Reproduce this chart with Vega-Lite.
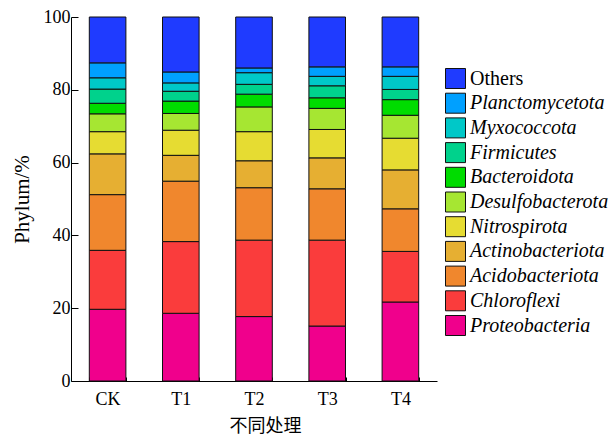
{
  "$schema": "https://vega.github.io/schema/vega-lite/v6.json",
  "autosize": {"type": "none"},
  "padding": {"left": 71, "top": 17, "right": 172, "bottom": 60},
  "width": 366,
  "height": 364,
  "background": "white",
  "config": {
    "view": {"stroke": null},
    "font": "Liberation Serif",
    "axis": {"grid": false, "domainColor": "#000", "tickColor": "#000", "labelColor": "#000", "titleColor": "#000", "labelFont": "Liberation Serif", "titleFont": "Liberation Serif", "titleFontWeight": "normal"},
    "legend": {"labelFont": "Liberation Serif"}
  },
  "data": {"values": [
    {"t": "CK", "p": "Proteobacteria", "k": 1, "v": 19.7},
    {"t": "CK", "p": "Chloroflexi", "k": 2, "v": 16.2},
    {"t": "CK", "p": "Acidobacteriota", "k": 3, "v": 15.3},
    {"t": "CK", "p": "Actinobacteriota", "k": 4, "v": 11.2},
    {"t": "CK", "p": "Nitrospirota", "k": 5, "v": 6.1},
    {"t": "CK", "p": "Desulfobacterota", "k": 6, "v": 4.9},
    {"t": "CK", "p": "Bacteroidota", "k": 7, "v": 2.9},
    {"t": "CK", "p": "Firmicutes", "k": 8, "v": 3.9},
    {"t": "CK", "p": "Myxococcota", "k": 9, "v": 3.1},
    {"t": "CK", "p": "Planctomycetota", "k": 10, "v": 4.1},
    {"t": "CK", "p": "Others", "k": 11, "v": 12.6},
    {"t": "T1", "p": "Proteobacteria", "k": 1, "v": 18.6},
    {"t": "T1", "p": "Chloroflexi", "k": 2, "v": 19.7},
    {"t": "T1", "p": "Acidobacteriota", "k": 3, "v": 16.6},
    {"t": "T1", "p": "Actinobacteriota", "k": 4, "v": 7.1},
    {"t": "T1", "p": "Nitrospirota", "k": 5, "v": 6.9},
    {"t": "T1", "p": "Desulfobacterota", "k": 6, "v": 4.6},
    {"t": "T1", "p": "Bacteroidota", "k": 7, "v": 3.4},
    {"t": "T1", "p": "Firmicutes", "k": 8, "v": 2.7},
    {"t": "T1", "p": "Myxococcota", "k": 9, "v": 2.3},
    {"t": "T1", "p": "Planctomycetota", "k": 10, "v": 3.0},
    {"t": "T1", "p": "Others", "k": 11, "v": 15.1},
    {"t": "T2", "p": "Proteobacteria", "k": 1, "v": 17.7},
    {"t": "T2", "p": "Chloroflexi", "k": 2, "v": 21.0},
    {"t": "T2", "p": "Acidobacteriota", "k": 3, "v": 14.4},
    {"t": "T2", "p": "Actinobacteriota", "k": 4, "v": 7.4},
    {"t": "T2", "p": "Nitrospirota", "k": 5, "v": 8.0},
    {"t": "T2", "p": "Desulfobacterota", "k": 6, "v": 6.8},
    {"t": "T2", "p": "Bacteroidota", "k": 7, "v": 3.5},
    {"t": "T2", "p": "Firmicutes", "k": 8, "v": 2.7},
    {"t": "T2", "p": "Myxococcota", "k": 9, "v": 3.2},
    {"t": "T2", "p": "Planctomycetota", "k": 10, "v": 1.3},
    {"t": "T2", "p": "Others", "k": 11, "v": 14.0},
    {"t": "T3", "p": "Proteobacteria", "k": 1, "v": 15.1},
    {"t": "T3", "p": "Chloroflexi", "k": 2, "v": 23.6},
    {"t": "T3", "p": "Acidobacteriota", "k": 3, "v": 14.1},
    {"t": "T3", "p": "Actinobacteriota", "k": 4, "v": 8.5},
    {"t": "T3", "p": "Nitrospirota", "k": 5, "v": 7.8},
    {"t": "T3", "p": "Desulfobacterota", "k": 6, "v": 5.8},
    {"t": "T3", "p": "Bacteroidota", "k": 7, "v": 2.9},
    {"t": "T3", "p": "Firmicutes", "k": 8, "v": 3.3},
    {"t": "T3", "p": "Myxococcota", "k": 9, "v": 2.6},
    {"t": "T3", "p": "Planctomycetota", "k": 10, "v": 2.6},
    {"t": "T3", "p": "Others", "k": 11, "v": 13.7},
    {"t": "T4", "p": "Proteobacteria", "k": 1, "v": 21.7},
    {"t": "T4", "p": "Chloroflexi", "k": 2, "v": 13.9},
    {"t": "T4", "p": "Acidobacteriota", "k": 3, "v": 11.7},
    {"t": "T4", "p": "Actinobacteriota", "k": 4, "v": 10.7},
    {"t": "T4", "p": "Nitrospirota", "k": 5, "v": 8.7},
    {"t": "T4", "p": "Desulfobacterota", "k": 6, "v": 6.3},
    {"t": "T4", "p": "Bacteroidota", "k": 7, "v": 4.3},
    {"t": "T4", "p": "Firmicutes", "k": 8, "v": 2.8},
    {"t": "T4", "p": "Myxococcota", "k": 9, "v": 3.6},
    {"t": "T4", "p": "Planctomycetota", "k": 10, "v": 2.6},
    {"t": "T4", "p": "Others", "k": 11, "v": 13.7}
  ]},
  "mark": {"type": "bar", "stroke": "#111", "strokeWidth": 1},
  "encoding": {
    "x": {
      "field": "t", "type": "nominal", "sort": ["CK", "T1", "T2", "T3", "T4"],
      "scale": {"paddingInner": 0.5, "paddingOuter": 0.25},
      "axis": {
        "title": "不同处理", "titleFont": "Liberation Serif, Noto Sans CJK SC", "titleFontSize": 18, "titleX": 194, "titlePadding": 9,
        "labelAngle": 0, "labelFontSize": 18, "labelDx": 8, "labelPadding": 13,
        "tickBand": "extent", "tickSize": -4, "domainWidth": 1, "tickWidth": 1
      }
    },
    "y": {
      "field": "v", "type": "quantitative", "stack": "zero",
      "scale": {"domain": [0, 100], "nice": false},
      "axis": {
        "title": "Phylum/%", "titleFontSize": 21, "titlePadding": 11,
        "values": [0, 20, 40, 60, 80, 100], "labelFontSize": 18, "labelPadding": 8,
        "tickSize": -7, "domainWidth": 1, "tickWidth": 1
      }
    },
    "order": {"field": "k", "type": "quantitative", "sort": "ascending"},
    "color": {
      "field": "p", "type": "nominal",
      "scale": {
        "domain": ["Others", "Planctomycetota", "Myxococcota", "Firmicutes", "Bacteroidota", "Desulfobacterota", "Nitrospirota", "Actinobacteriota", "Acidobacteriota", "Chloroflexi", "Proteobacteria"],
        "range": ["#1F3BFF", "#00A0FF", "#00C8C8", "#00D28C", "#00DC00", "#A6E632", "#E6DC32", "#E6AF32", "#F0872D", "#FA3C3C", "#F0008C"]
      },
      "legend": {
        "title": null, "orient": "none", "legendX": 374, "legendY": 51, "padding": 0,
        "symbolType": "square", "symbolSize": 400, "symbolStrokeColor": "#111", "symbolStrokeWidth": 1, "symbolOpacity": 1,
        "labelFont": "Liberation Serif", "labelFontSize": 20, "labelColor": "#000", "labelOffset": 4, "rowPadding": -0.3,
        "labelLimit": 200,
        "labelFontStyle": {"expr": "datum.value === 'Others' ? 'normal' : 'italic'"}
      }
    }
  }
}
